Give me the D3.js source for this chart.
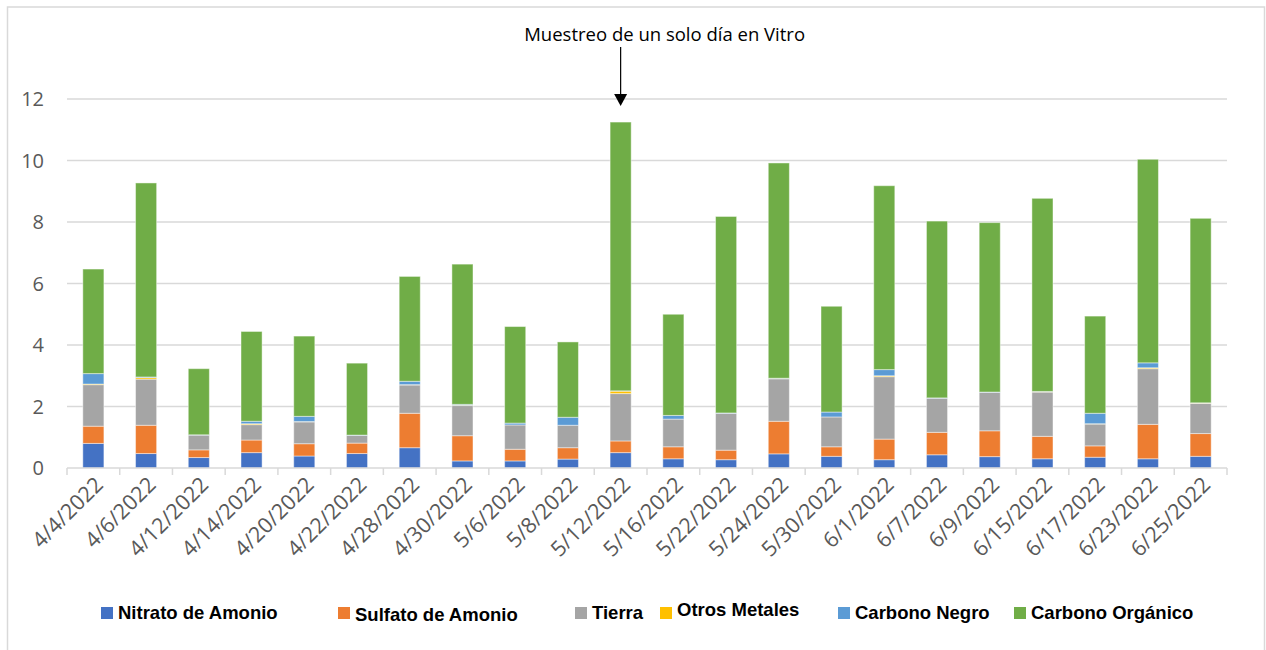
<!DOCTYPE html>
<html>
<head>
<meta charset="utf-8">
<script src="https://cdn.jsdelivr.net/npm/d3@7"></script>
<style>
  html, body { margin: 0; padding: 0; background: #fff; overflow: hidden; }
  svg { display: block; }
</style>
</head>
<body>
<div id="chart"></div>
<script>
// fechas de muestreo
const dates = ["4/4/2022", "4/6/2022", "4/12/2022", "4/14/2022", "4/20/2022", "4/22/2022",
  "4/28/2022", "4/30/2022", "5/6/2022", "5/8/2022", "5/12/2022", "5/16/2022", "5/22/2022",
  "5/24/2022", "5/30/2022", "6/1/2022", "6/7/2022", "6/9/2022", "6/15/2022", "6/17/2022",
  "6/23/2022", "6/25/2022"];

const nitrato  = [0.80, 0.47, 0.34, 0.50, 0.39, 0.47, 0.66, 0.23, 0.23, 0.29, 0.50, 0.30, 0.27, 0.46, 0.38, 0.27, 0.43, 0.37, 0.30, 0.35, 0.30, 0.38];
const sulfato  = [0.56, 0.92, 0.25, 0.41, 0.40, 0.34, 1.12, 0.82, 0.38, 0.37, 0.38, 0.39, 0.31, 1.06, 0.31, 0.67, 0.73, 0.84, 0.73, 0.37, 1.12, 0.74];
const tierra   = [1.35, 1.50, 0.48, 0.50, 0.71, 0.25, 0.92, 0.98, 0.79, 0.73, 1.54, 0.90, 1.20, 1.38, 0.97, 2.03, 1.11, 1.25, 1.44, 0.71, 1.81, 0.98];
const otros    = [0.02, 0.05, 0.00, 0.03, 0.01, 0.00, 0.01, 0.01, 0.00, 0.00, 0.08, 0.00, 0.00, 0.01, 0.00, 0.03, 0.00, 0.00, 0.01, 0.01, 0.03, 0.01];
const negro    = [0.34, 0.02, 0.01, 0.08, 0.17, 0.01, 0.11, 0.03, 0.06, 0.26, 0.01, 0.12, 0.01, 0.01, 0.16, 0.20, 0.01, 0.01, 0.01, 0.34, 0.16, 0.01];
const organico = [3.40, 6.31, 2.15, 2.92, 2.61, 2.34, 3.41, 4.56, 3.14, 2.45, 8.74, 3.29, 6.39, 7.00, 3.44, 5.98, 5.75, 5.51, 6.28, 3.16, 6.62, 6.00];

const seriesNames = ["Nitrato de Amonio", "Sulfato de Amonio", "Tierra", "Otros Metales", "Carbono Negro", "Carbono Orgánico"];
const seriesValues = [nitrato, sulfato, tierra, otros, negro, organico];
const colors = ["#4472C4", "#ED7D31", "#A5A5A5", "#FFC000", "#5B9BD5", "#70AD47"];
const yTicks = [0, 2, 4, 6, 8, 10, 12];

const annotationText = "Muestreo de un solo día en Vitro";
const annotationDate = "5/12/2022";

const width = 1266, height = 650;
const margin = { top: 99, right: 39, bottom: 182, left: 67 };
const innerWidth = width - margin.left - margin.right;
const innerHeight = height - margin.top - margin.bottom;
const axisFont = "'Open Sans', sans-serif";

const svg = d3.select("#chart").append("svg")
  .attr("width", width)
  .attr("height", height);

// marco del gráfico (sin borde inferior visible)
svg.append("path")
  .attr("d", "M7.5,650 L7.5,7 L1264.5,7 L1264.5,650")
  .attr("fill", "none")
  .attr("stroke", "#d9d9d9")
  .attr("stroke-width", 1.5);

const g = svg.append("g")
  .attr("transform", `translate(${margin.left}, ${margin.top})`);

const x = d3.scaleBand()
  .domain(dates)
  .range([0, innerWidth])
  .paddingInner(0.6)
  .paddingOuter(0.3);

const y = d3.scaleLinear()
  .domain([0, 12])
  .range([innerHeight, 0]);

// rejilla
g.append("g")
  .selectAll("line")
  .data(yTicks.filter(d => d > 0))
  .join("line")
  .attr("x1", 0).attr("x2", innerWidth)
  .attr("y1", d => y(d)).attr("y2", d => y(d))
  .attr("stroke", "#d9d9d9")
  .attr("stroke-width", 1.5);

// eje Y
g.append("g")
  .selectAll("text")
  .data(yTicks)
  .join("text")
  .attr("y", d => y(d))
  .attr("dy", "0.36em")
  .attr("fill", "#595959")
  .style("font-family", axisFont)
  .style("font-size", "20px")
  .text(d => d)
  .attr("x", function () { return -23 - this.getComputedTextLength(); });

// datos apilados
const table = dates.map((d, i) => {
  const row = { date: d };
  seriesNames.forEach((s, j) => { row[s] = seriesValues[j][i]; });
  return row;
});
const stacked = d3.stack().keys(seriesNames)(table);

g.append("g")
  .selectAll("g")
  .data(stacked)
  .join("g")
  .attr("fill", (d, i) => colors[i])
  .selectAll("rect")
  .data(d => d)
  .join("rect")
  .attr("x", d => x(d.data.date))
  .attr("y", d => y(d[1]))
  .attr("width", x.bandwidth())
  .attr("height", d => y(d[0]) - y(d[1]))
  .attr("stroke", "#ffffff")
  .attr("stroke-opacity", 0.45)
  .attr("stroke-width", 1);

// eje X
const step = x.step();
const xAxisG = g.append("g")
  .attr("transform", `translate(0, ${innerHeight})`);
xAxisG.append("line")
  .attr("x1", 0).attr("x2", innerWidth)
  .attr("stroke", "#d9d9d9").attr("stroke-width", 1.5);
xAxisG.selectAll(".tick-mark")
  .data(d3.range(dates.length + 1))
  .join("line")
  .attr("class", "tick-mark")
  .attr("x1", i => i * step).attr("x2", i => i * step)
  .attr("y1", 0).attr("y2", 7)
  .attr("stroke", "#d9d9d9").attr("stroke-width", 1.5);

xAxisG.selectAll(".xlabel")
  .data(dates)
  .join("text")
  .attr("class", "xlabel")
  .attr("transform", d => `translate(${x(d) + x.bandwidth() / 2 + 11}, 18) rotate(-45)`)
  .attr("fill", "#595959")
  .style("font-family", axisFont)
  .style("font-size", "21.5px")
  .text(d => d)
  .attr("x", function () { return -this.getComputedTextLength(); });

// anotación
const ax = margin.left + x(annotationDate) + x.bandwidth() / 2;
svg.append("text")
  .attr("y", 41)
  .attr("fill", "#000")
  .style("font-family", axisFont)
  .style("font-size", "18.5px")
  .text(annotationText)
  .attr("x", function () { return ax + 44 - this.getComputedTextLength() / 2; });
svg.append("line")
  .attr("x1", ax).attr("x2", ax)
  .attr("y1", 47).attr("y2", 96)
  .attr("stroke", "#000").attr("stroke-width", 1.2);
svg.append("path")
  .attr("d", `M${ax - 6.5},94 L${ax + 6.5},94 L${ax},106 Z`)
  .attr("fill", "#000");

// leyenda (posiciones como en el original)
const legendPos = [
  { x: 101, dy: 0 }, { x: 338, dy: 2 }, { x: 575, dy: 0 },
  { x: 660, dy: -3 }, { x: 838, dy: 0 }, { x: 1014, dy: 0 }
];
const legend = svg.append("g");
seriesNames.forEach((s, i) => {
  const p = legendPos[i];
  legend.append("rect")
    .attr("x", p.x).attr("y", 607)
    .attr("width", 12).attr("height", 12)
    .attr("fill", colors[i]);
  legend.append("text")
    .attr("x", p.x + 17)
    .attr("y", 619 + p.dy)
    .attr("fill", "#000")
    .style("font-family", "'Liberation Sans', Arial, sans-serif")
    .style("font-weight", "bold")
    .style("font-size", "18.5px")
    .text(s);
});
</script>
</body>
</html>
